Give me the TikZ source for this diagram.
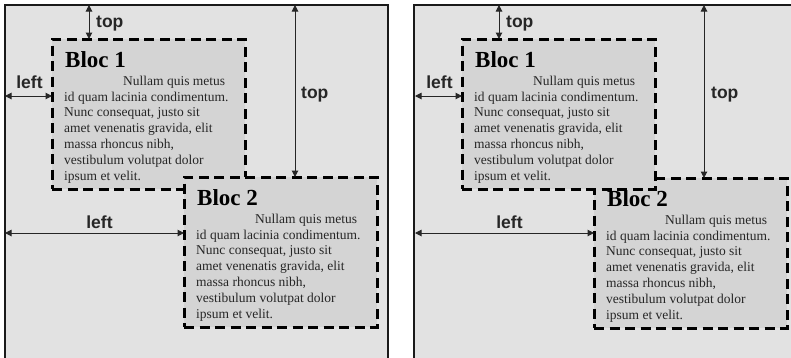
\documentclass[tikz,border=0pt]{standalone}
\usepackage{fontspec}
\setmainfont{Liberation Serif}
\newfontfamily\labelfont{Liberation Sans}
\usetikzlibrary{calc,arrows.meta}
\definecolor{framegray}{HTML}{1A1A1A}
\definecolor{paper}{HTML}{E2E2E2}
\definecolor{blocfill}{HTML}{D4D4D4}
\definecolor{inkgray}{HTML}{262626}

% body text of every bloc, broken as in the picture
\newcommand{\blocbody}{\hspace*{59pt}Nullam quis metus\\
  id quam lacinia condimentum.\\
  Nunc consequat, justo sit\\
  amet venenatis gravida, elit\\
  massa rhoncus nibh,\\
  vestibulum volutpat dolor\\
  ipsum et velit.}

% bloc: name, x, y (top-left corner), title
\newcommand{\drawbloc}[4]{%
  \node[bloc] (#1) at (#2,#3) {};
  \node[bloctitle] (#1title) at ($(#1.north west)+(13,28)$) {#4};
  \node[bloctext] (#1text) at ($(#1.north west)+(12,36.7)$) {\blocbody};
}

\begin{document}
\begin{tikzpicture}[
    x=1pt, y=-1pt,
    bloc/.style={draw=black, fill=blocfill, line width=3pt,
      dash pattern=on 10pt off 5.5pt, minimum width=193pt, minimum height=150pt,
      anchor=north west, inner sep=0pt, outer sep=0pt},
    bloctitle/.style={anchor=base west, inner sep=0pt, text=black,
      font=\bfseries\fontsize{23}{26}\selectfont},
    bloctext/.style={anchor=north west, inner sep=0pt, align=left, text=inkgray,
      font=\fontsize{13.5}{15.8}\selectfont},
    dimarrow/.style={draw=inkgray, line width=1pt,
      {Triangle[length=6.5pt,width=6.5pt]}-{Triangle[length=6.5pt,width=6.5pt]}},
    dimlabel/.style={inner sep=0pt, text=inkgray,
      font=\labelfont\bfseries\fontsize{17.5}{20}\selectfont},
  ]

  \useasboundingbox (0,0) rectangle (791,357);
  \clip (0,0) rectangle (791,357);

  % ---------- Left panel: Bloc 2 over Bloc 1 ------------------------------
  \fill[paper] (5,5) rectangle (388,360);
  \draw[framegray, line width=2pt] (5,362) |- (388,5) -- (388,362);
  \coordinate (frameL) at (5,5);

  \drawbloc{b1L}{52}{39}{Bloc 1}
  \drawbloc{b2L}{184}{177}{Bloc 2}

  % offsets of Bloc 1
  \coordinate (topL) at ($(b1L.north west)+(37,0)$);
  \draw[dimarrow] (topL |- frameL) -- (topL);
  \node[dimlabel, anchor=west] (topLlbl) at ($(topL)+(7,-15)$) {top};
  \coordinate (leftL) at ($(b1L.north west)+(0,57)$);
  \coordinate (leftLend) at (leftL -| frameL);
  \draw[dimarrow] (leftLend) -- (leftL);
  \node[dimlabel] (leftLlbl) at ($(leftLend)!0.5!(leftL)+(1,-14)$) {left};

  % offsets of Bloc 2
  \coordinate (top2L) at ($(b2L.north west)+(111,0)$);
  \draw[dimarrow] (top2L |- frameL) -- (top2L);
  \node[dimlabel, anchor=west] (top2Llbl) at ($(top2L)+(6,-82)$) {top};
  \coordinate (left2L) at ($(b2L.north west)+(0,56)$);
  \coordinate (left2Lend) at (left2L -| frameL);
  \draw[dimarrow] (left2Lend) -- (left2L);
  \node[dimlabel] (left2Llbl) at ($(left2Lend)!0.5!(left2L)+(5,-11)$) {left};

  % ---------- Right panel: Bloc 1 over Bloc 2 -----------------------------
  \begin{scope}[xshift=410pt]
    \fill[paper] (5,5) rectangle (400,360);
    \draw[framegray, line width=2pt] (4,362) |- (400,5);
    \coordinate (frameR) at (5,5);

    \drawbloc{b2R}{184}{178}{Bloc 2}
    \drawbloc{b1R}{52}{39}{Bloc 1}

    % offsets of Bloc 1
    \coordinate (topR) at ($(b1R.north west)+(37,0)$);
    \draw[dimarrow] (topR |- frameR) -- (topR);
    \node[dimlabel, anchor=west] (topRlbl) at ($(topR)+(7,-15)$) {top};
    \coordinate (leftR) at ($(b1R.north west)+(0,57)$);
    \coordinate (leftRend) at (leftR -| frameR);
    \draw[dimarrow] (leftRend) -- (leftR);
    \node[dimlabel] (leftRlbl) at ($(leftRend)!0.5!(leftR)+(1,-14)$) {left};

    % offsets of Bloc 2
    \coordinate (top2R) at ($(b2R.north west)+(110,0)$);
    \draw[dimarrow] (top2R |- frameR) -- (top2R);
    \node[dimlabel, anchor=west] (top2Rlbl) at ($(top2R)+(7,-83)$) {top};
    \coordinate (left2R) at ($(b2R.north west)+(0,55)$);
    \coordinate (left2Rend) at (left2R -| frameR);
    \draw[dimarrow] (left2Rend) -- (left2R);
    \node[dimlabel] (left2Rlbl) at ($(left2Rend)!0.5!(left2R)+(5,-11)$) {left};
  \end{scope}

\end{tikzpicture}
\end{document}
